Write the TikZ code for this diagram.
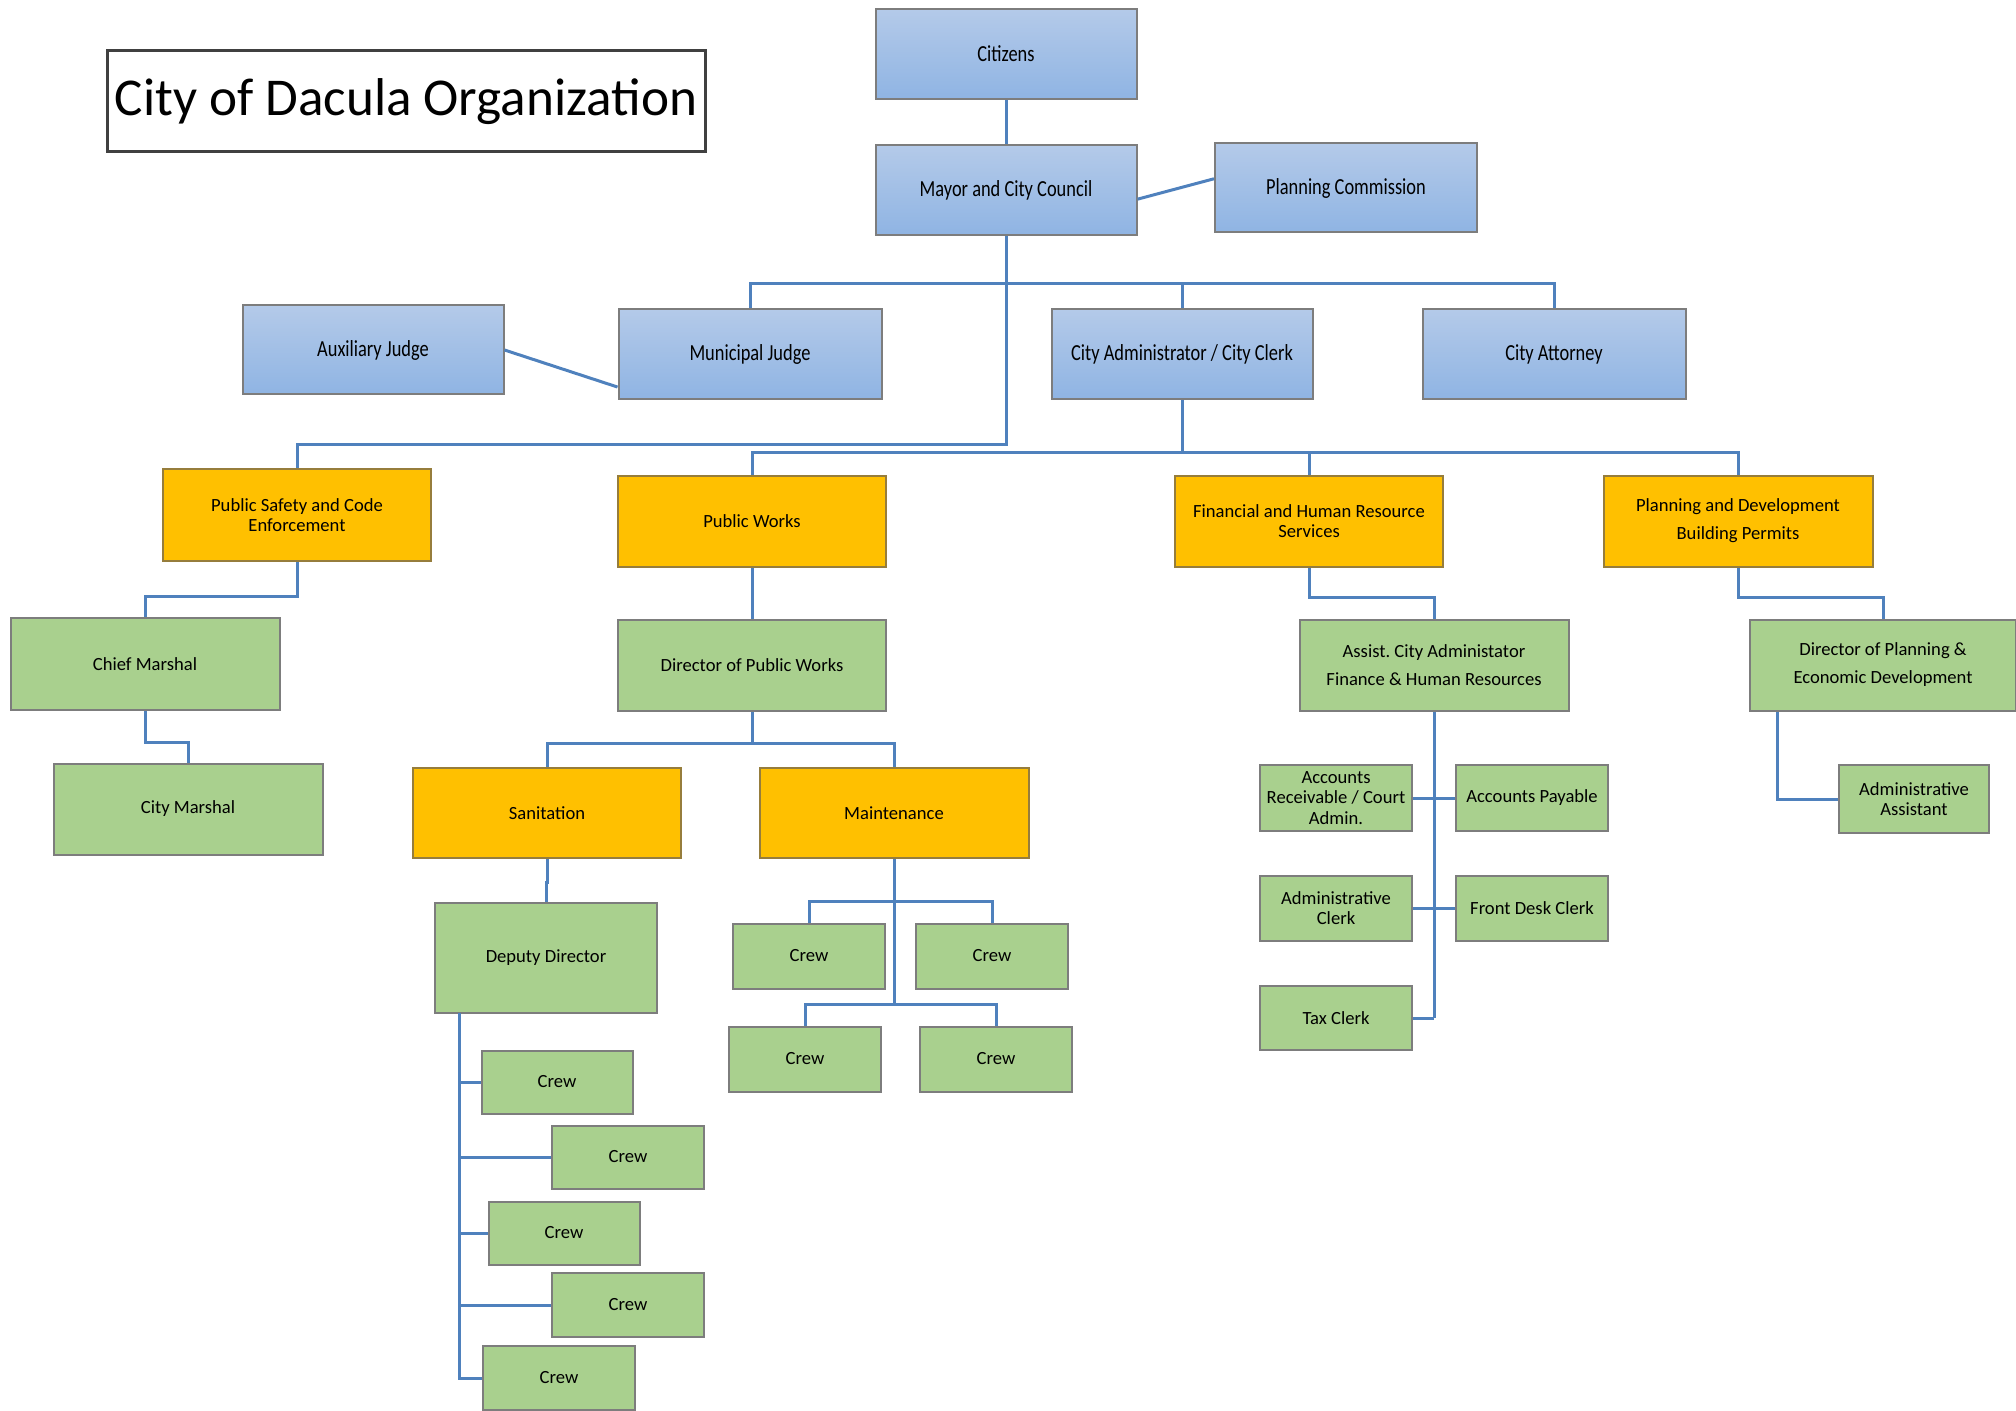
\documentclass[tikz,border=0pt]{standalone}
\usepackage{fontspec}
\setmainfont{Carlito}
\newfontfamily\narrowfont[FakeStretch=0.8]{Carlito}
\frenchspacing

\definecolor{blueTop}{RGB}{180,202,233}
\definecolor{blueBot}{RGB}{143,180,227}
\definecolor{deptorange}{RGB}{255,192,0}
\definecolor{staffgreen}{RGB}{169,208,142}
\definecolor{linkblue}{RGB}{79,129,189}
\definecolor{boxedge}{RGB}{125,125,125}
\definecolor{orangeedge}{RGB}{150,125,60}

\tikzset{
  box/.style={draw=boxedge, line width=1pt, inner sep=0pt, align=center},
  bluebox/.style={box, top color=blueTop, bottom color=blueBot,
    font=\narrowfont\fontsize{11.5}{13}\selectfont},
  orangebox/.style={box, draw=orangeedge, fill=deptorange, font=\fontsize{9.3}{10.3}\selectfont},
  greenbox/.style={box, fill=staffgreen, font=\fontsize{9.3}{10.3}\selectfont},
  widelines/.style={font=\fontsize{9.3}{14}\selectfont},
  boxsize/.style 2 args={minimum width={#1*0.5pt}, minimum height={#2*0.5pt}},
  link/.style={draw=linkblue, line width=1.5pt},
}

\begin{document}
\begin{tikzpicture}[x=0.5pt, y=-0.5pt]
    \useasboundingbox (0,0) rectangle (2016,1411);

    % タイトル
    \node[draw=black!75, line width=1.5pt, inner sep=0pt, minimum width=299pt, minimum height=50.5pt,
      font=\fontsize{26.6}{30}\selectfont] (title) at (406,101.5) {City of Dacula Organization};

    % 市民・議会・判事(青)
    \node[bluebox, boxsize={261}{90}] (citizens) at (1006,54) {Citizens};
    \node[bluebox, boxsize={261}{90}] (mayor) at (1006,190) {Mayor and City Council};
    \node[bluebox, boxsize={262}{89}] (plancomm) at (1346,188) {Planning Commission};
    \node[bluebox, boxsize={261}{89}] (auxjudge) at (373,350) {Auxiliary Judge};
    \node[bluebox, boxsize={263}{90}] (munijudge) at (750,354) {Municipal Judge};
    \node[bluebox, boxsize={261}{90}] (cityadmin) at (1182,354) {City Administrator / City Clerk};
    \node[bluebox, boxsize={263}{90}] (attorney) at (1554,354) {City Attorney};

    % 部門(オレンジ)
    \node[orangebox, boxsize={268}{92}] (pubsafety) at (297,515) {Public Safety and Code\\Enforcement};
    \node[orangebox, boxsize={268}{91}] (pubworks) at (752,521) {Public Works};
    \node[orangebox, boxsize={268}{91}] (finance) at (1309,521) {Financial and Human Resource\\Services};
    \node[orangebox, widelines, boxsize={269}{91}] (plandev) at (1738,521) {Planning and Development\\Building Permits};
    \node[orangebox, boxsize={268}{90}] (sanitation) at (547,813) {Sanitation};
    \node[orangebox, boxsize={269}{90}] (maint) at (894,813) {Maintenance};

    % 職員(緑)
    \node[greenbox, boxsize={269}{92}] (chief) at (145,664) {Chief Marshal};
    \node[greenbox, boxsize={269}{91}] (citymarshal) at (188,809) {City Marshal};
    \node[greenbox, boxsize={268}{91}] (dirpw) at (752,665) {Director of Public Works};
    \node[greenbox, boxsize={222}{110}] (deputy) at (546,958) {Deputy Director};
    \node[greenbox, widelines, boxsize={269}{91}] (assist) at (1434,665) {Assist. City Administator\\Finance \& Human Resources};
    \node[greenbox, widelines, boxsize={266}{91}] (dirplan) at (1883,665) {Director of Planning \&\\Economic Development};

    % 衛生の作業班
    \node[greenbox, boxsize={151}{63}] (screw1) at (557,1082) {Crew};
    \node[greenbox, boxsize={152}{63}] (screw2) at (628,1157) {Crew};
    \node[greenbox, boxsize={151}{63}] (screw3) at (564,1233) {Crew};
    \node[greenbox, boxsize={152}{64}] (screw4) at (628,1305) {Crew};
    \node[greenbox, boxsize={152}{64}] (screw5) at (559,1378) {Crew};

    % 維持管理の作業班
    \node[greenbox, boxsize={152}{65}] (mcrew1) at (809,956) {Crew};
    \node[greenbox, boxsize={152}{65}] (mcrew2) at (992,956) {Crew};
    \node[greenbox, boxsize={152}{65}] (mcrew3) at (805,1059) {Crew};
    \node[greenbox, boxsize={152}{65}] (mcrew4) at (996,1059) {Crew};

    % 財務の職員
    \node[greenbox, boxsize={152}{66}] (receivable) at (1336,798) {Accounts\\Receivable / Court\\Admin.};
    \node[greenbox, boxsize={152}{66}] (payable) at (1532,798) {Accounts Payable};
    \node[greenbox, boxsize={152}{65}] (adminclerk) at (1336,908) {Administrative\\Clerk};
    \node[greenbox, boxsize={152}{65}] (frontdesk) at (1532,908) {Front Desk Clerk};
    \node[greenbox, boxsize={152}{64}] (taxclerk) at (1336,1018) {Tax Clerk};
    \node[greenbox, boxsize={150}{68}] (adminasst) at (1914,799) {Administrative\\Assistant};

    % 分岐点
    \coordinate (mayorbus) at (1006,284);
    \coordinate (trunkbend) at (1006,445);
    \coordinate (adminbus) at (1182,453);
    \coordinate (pwbus) at (752,743);
    \coordinate (depspine) at (459,1013);
    \coordinate (mbus1) at (894,901);
    \coordinate (mbus2) at (894,1004);
    \coordinate (finspine) at (1434,1018);

    % 上部の接続
    \draw[link] (citizens) -- (mayor);
    \draw[link] (mayor.-4) -- (plancomm.176);
    \draw[link] (auxjudge.east) -- (munijudge.194);
    \draw[link] (mayor) -- (trunkbend) -| (pubsafety);
    \draw[link] (mayorbus) -| (munijudge);
    \draw[link] (mayorbus) -| (cityadmin);
    \draw[link] (mayorbus) -| (attorney);
    \draw[link] (cityadmin) -- (adminbus);
    \draw[link] (adminbus) -| (pubworks);
    \draw[link] (adminbus) -| (finance);
    \draw[link] (adminbus) -| (plandev);

    % 治安
    \draw[link] (pubsafety.south) -- ++(0,34) -| (chief.north);
    \draw[link] (chief.south) -- ++(0,31) -| (citymarshal.north);

    % 公共事業
    \draw[link] (pubworks) -- (dirpw);
    \draw[link] (dirpw) -- (pwbus);
    \draw[link] (pwbus) -| (sanitation);
    \draw[link] (pwbus) -| (maint);
    \draw[link] (sanitation.south) -- ++(0,23) -| (deputy.north);
    \foreach \c in {screw1,screw2,screw3,screw4,screw5}
      \draw[link] (depspine) |- (\c.west);
    \draw[link] (maint) -- (mbus2);
    \draw[link] (mbus1) -| (mcrew1);
    \draw[link] (mbus1) -| (mcrew2);
    \draw[link] (mbus2) -| (mcrew3);
    \draw[link] (mbus2) -| (mcrew4);

    % 財務
    \draw[link] (finance.south) -- ++(0,30) -| (assist.north);
    \draw[link] (assist) -- (finspine);
    \draw[link] (receivable.east) -- (payable.west);
    \draw[link] (adminclerk.east) -- (frontdesk.west);
    \draw[link] (taxclerk.east) -- (finspine);

    % 計画
    \draw[link] (plandev.south) -- ++(0,30) -| (dirplan.north);
    \draw[link] (dirplan.south west) ++(28,0) |- (adminasst.west);
  \end{tikzpicture}
\end{document}
